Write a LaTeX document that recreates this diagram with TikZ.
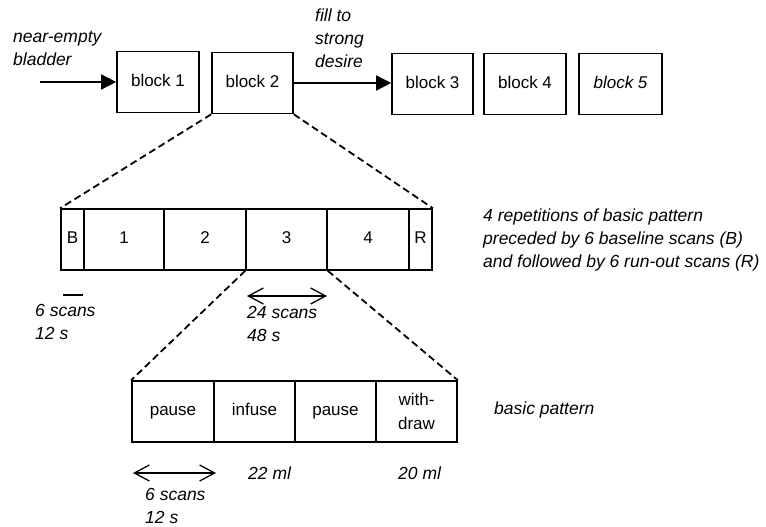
\documentclass[tikz,border=0pt]{standalone}
\usepackage{fontspec}
\setmainfont{Liberation Sans}
\usetikzlibrary{arrows.meta}
\begin{document}
\begin{tikzpicture}[x=1pt,y=-1pt,
  every node/.style={font=\fontsize{17}{22}\selectfont},
  one/.style={text height=12.4pt, text depth=3.6pt},
  blk/.style={draw, line width=1.6pt, minimum height=61pt, inner sep=0pt},
  seg/.style={draw, line width=1.6pt, minimum height=61pt, inner sep=0pt},
  lbl/.style={inner sep=0pt, align=left, anchor=west, font=\fontsize{17.5}{23}\selectfont\itshape},
  zoomline/.style={line width=1.8pt, dash pattern=on 7pt off 4pt},
  flow/.style={line width=1.5pt, -{Triangle[length=15pt,width=15pt]}},
  span/.style={line width=1.3pt, {Straight Barb[length=15pt,width=16pt]}-{Straight Barb[length=15pt,width=16pt]}}
]
\useasboundingbox (0,0) rectangle (766,527);
% top blocks
\node[blk, one, minimum width=82pt] (b1) at (158,82) {block 1};
\node[blk, one, minimum width=81pt] (b2) at (252.5,83) {block 2};
\node[blk, one, minimum width=81pt] (b3) at (432.5,84) {block 3};
\node[blk, one, minimum width=82pt] (b4) at (525,84) {block 4};
\node[blk, one, minimum width=83pt, font=\fontsize{17}{22}\selectfont\itshape] (b5) at (620.5,84) {block 5};
\coordinate (in) at (40,82);
\draw[flow] (in) -- (b1.west);
\draw[flow] (b2.east) -- (b3.west |- b2.east);
\node[lbl] (t1) at (13,48) {near-empty\\bladder};
\node[lbl] (t2) at (315,38.5) {fill to\\strong\\desire};
% middle bar
\node[seg, one, minimum width=23pt] (sB) at (72.5,239.5) {B};
\node[seg, one, minimum width=80pt] (s1) at (124,239.5) {1};
\node[seg, one, minimum width=82pt] (s2) at (205,239.5) {2};
\node[seg, one, minimum width=81pt] (s3) at (286.5,239.5) {3};
\node[seg, one, minimum width=82pt] (s4) at (368,239.5) {4};
\node[seg, one, minimum width=23pt] (sR) at (420.5,239.5) {R};
\draw[zoomline] (b2.south west) -- (sB.north west);
\draw[zoomline] (b2.south east) -- (sR.north east);
\node[lbl] (t3) at (483,240) {4 repetitions of basic pattern\\preceded by 6 baseline scans (B)\\and followed by 6 run-out scans (R)};
% scale marks
\coordinate (m1) at (63,295);
\coordinate (m2) at (83,295);
\draw[line width=1.3pt] (m1) -- (m2);
\node[lbl] (t4) at (35,322) {6 scans\\12 s};
\coordinate (a1) at (247,296);
\coordinate (a2) at (327,296);
\draw[span] (a1) -- (a2);
\node[lbl] (t5) at (247,324) {24 scans\\48 s};
% basic pattern
\node[seg, one, minimum width=82pt] (p1) at (173,411.5) {pause};
\node[seg, one, minimum width=81pt] (p2) at (254.5,411.5) {infuse};
\node[seg, one, minimum width=81pt] (p3) at (335.5,411.5) {pause};
\node[seg, minimum width=81pt, align=center, font=\fontsize{17}{23.5}\selectfont] (p4) at (416.5,411.5) {with-\\draw};
\draw[zoomline] (s3.south west) -- (p1.north west);
\draw[zoomline] (s3.south east) -- (p4.north east);
\node[lbl] (t6) at (494,410) {basic pattern};
\coordinate (c1) at (133,473);
\coordinate (c2) at (216,473);
\draw[span] (c1) -- (c2);
\node[lbl] (t7) at (145,505.5) {6 scans\\12 s};
\node[lbl] (t8) at (248,473) {22 ml};
\node[lbl] (t9) at (398,473) {20 ml};
\end{tikzpicture}
\end{document}
